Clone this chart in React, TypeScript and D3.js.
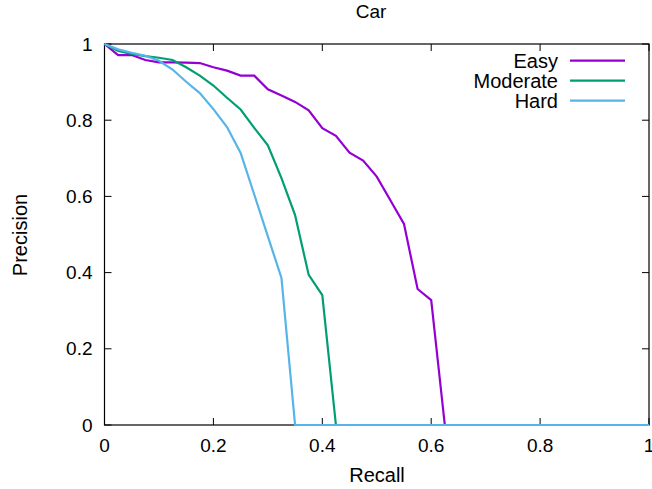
import React, { useEffect, useRef } from "react";
import * as d3 from "d3";

const RECALL = [
  0, 0.025, 0.05, 0.075, 0.1, 0.125, 0.15, 0.175, 0.2, 0.225,
  0.25, 0.275, 0.3, 0.325, 0.35, 0.375, 0.4, 0.425, 0.45, 0.475,
  0.5, 0.525, 0.55, 0.575, 0.6, 0.625, 0.65, 0.675, 0.7, 0.725,
  0.75, 0.775, 0.8, 0.825, 0.85, 0.875, 0.9, 0.925, 0.95, 0.975, 1,
];

const EASY = [
  1, 0.971, 0.971, 0.958, 0.952, 0.952, 0.951, 0.95, 0.939, 0.93,
  0.917, 0.917, 0.881, 0.865, 0.848, 0.826, 0.779, 0.759, 0.715, 0.694,
  0.652, 0.59, 0.528, 0.357, 0.328, 0, 0, 0, 0, 0,
  0, 0, 0, 0, 0, 0, 0, 0, 0, 0, 0,
];

const MODERATE = [
  1, 0.982, 0.974, 0.968, 0.964, 0.958, 0.939, 0.917, 0.891, 0.859,
  0.828, 0.78, 0.734, 0.648, 0.551, 0.394, 0.341, 0, 0, 0,
  0, 0, 0, 0, 0, 0, 0, 0, 0, 0,
  0, 0, 0, 0, 0, 0, 0, 0, 0, 0, 0,
];

const HARD = [
  1, 0.986, 0.977, 0.969, 0.956, 0.933, 0.901, 0.871, 0.829, 0.782,
  0.714, 0.605, 0.495, 0.386, 0, 0, 0, 0, 0, 0,
  0, 0, 0, 0, 0, 0, 0, 0, 0, 0,
  0, 0, 0, 0, 0, 0, 0, 0, 0, 0, 0,
];

const SERIES = [
  { name: "Easy", values: EASY, color: "#9400D3" },
  { name: "Moderate", values: MODERATE, color: "#009E73" },
  { name: "Hard", values: HARD, color: "#56B4E9" },
];

const X_TICKS = [0, 0.2, 0.4, 0.6, 0.8, 1];
const Y_TICKS = [0, 0.2, 0.4, 0.6, 0.8, 1];

const FONT = "'Liberation Sans', Arial, sans-serif";
const FS = 19;

export default function App() {
  const svgRef = useRef<SVGSVGElement>(null);

  useEffect(() => {
    const svg = d3.select(svgRef.current);
    svg.selectAll("*").remove();

    const width = 652, height = 489;
    const margin = { top: 44, right: 3, bottom: 64, left: 104.5 };
    const w = width - margin.left - margin.right;
    const h = height - margin.top - margin.bottom;

    const x = d3.scaleLinear().domain([0, 1]).range([0, w]);
    const y = d3.scaleLinear().domain([0, 1]).range([h, 0]);

    const g = svg.append("g").attr("transform", `translate(${margin.left},${margin.top})`);

    // ticks point inward, mirrored on top/right
    const tk = 7;
    X_TICKS.forEach(t => {
      g.append("line").attr("x1", x(t)).attr("x2", x(t)).attr("y1", h).attr("y2", h - tk)
        .attr("stroke", "#000").attr("stroke-width", 1);
      g.append("line").attr("x1", x(t)).attr("x2", x(t)).attr("y1", 0).attr("y2", tk)
        .attr("stroke", "#000").attr("stroke-width", 1);
      g.append("text").attr("x", x(t)).attr("y", h + 27)
        .attr("text-anchor", "middle").attr("font-family", FONT).attr("font-size", FS)
        .text(d3.format("~g")(t));
    });
    Y_TICKS.forEach(t => {
      g.append("line").attr("x1", 0).attr("x2", tk).attr("y1", y(t)).attr("y2", y(t))
        .attr("stroke", "#000").attr("stroke-width", 1);
      g.append("line").attr("x1", w).attr("x2", w - tk).attr("y1", y(t)).attr("y2", y(t))
        .attr("stroke", "#000").attr("stroke-width", 1);
      g.append("text").attr("x", -12).attr("y", y(t) + 6.5)
        .attr("text-anchor", "end").attr("font-family", FONT).attr("font-size", FS)
        .text(d3.format("~g")(t));
    });

    g.append("rect").attr("x", 0).attr("y", 0).attr("width", w).attr("height", h)
      .attr("fill", "none").attr("stroke", "#000").attr("stroke-width", 1.2);

    const line = d3.line<number>().x((_, i) => x(RECALL[i])).y(d => y(d));
    SERIES.forEach(s => {
      g.append("path").datum(s.values).attr("d", line)
        .attr("fill", "none").attr("stroke", s.color).attr("stroke-width", 2.2);
    });

    // legend, top right inside the frame
    SERIES.forEach((s, i) => {
      const ly = 60.7 + i * 20 - margin.top;
      g.append("text").attr("x", 558 - margin.left).attr("y", ly + 7)
        .attr("text-anchor", "end").attr("font-family", FONT).attr("font-size", FS + 1)
        .text(s.name);
      g.append("line").attr("x1", 570 - margin.left).attr("x2", 625 - margin.left)
        .attr("y1", ly).attr("y2", ly)
        .attr("stroke", s.color).attr("stroke-width", 2.2);
    });

    svg.append("text").attr("x", 371).attr("y", 18)
      .attr("text-anchor", "middle").attr("font-family", FONT).attr("font-size", FS)
      .text("Car");
    svg.append("text").attr("x", 377).attr("y", 482)
      .attr("text-anchor", "middle").attr("font-family", FONT).attr("font-size", FS + 1)
      .text("Recall");
    svg.append("text").attr("transform", "translate(27,235) rotate(-90)")
      .attr("text-anchor", "middle").attr("font-family", FONT).attr("font-size", FS + 1)
      .text("Precision");
  }, []);

  return (
    <svg
      ref={svgRef}
      width={652}
      height={489}
      style={{ position: "absolute", left: 0, top: 0, background: "#fff" }}
    />
  );
}
